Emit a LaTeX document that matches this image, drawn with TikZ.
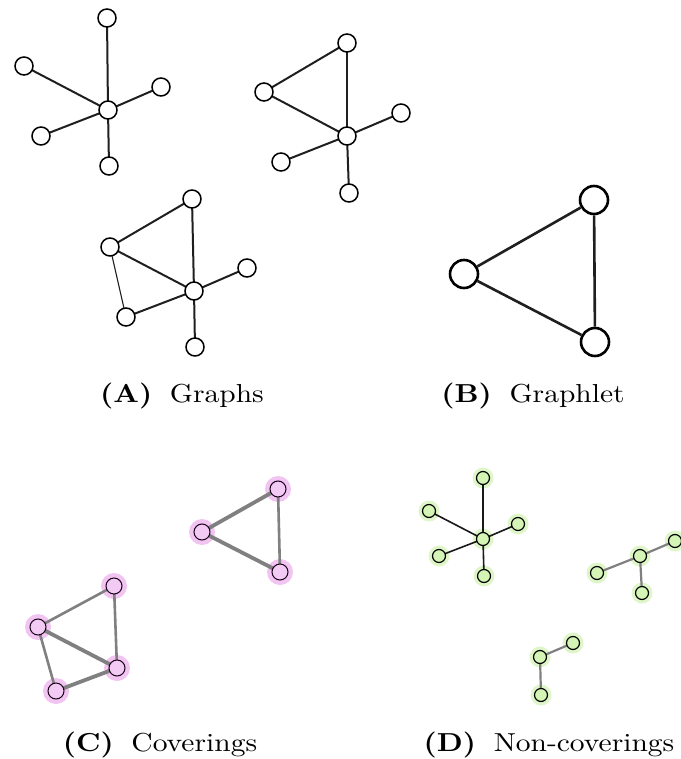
\documentclass[tikz,border=0pt]{standalone}
\usetikzlibrary{calc}
\definecolor{pinkfill}{RGB}{243,202,243}
\definecolor{pinkhalo}{RGB}{236,176,236}
\definecolor{greenfill}{RGB}{212,245,182}
\definecolor{greenhalo}{RGB}{222,246,200}
\definecolor{edgegray}{RGB}{128,128,128}
\tikzset{
  anode/.style={circle,draw=black,fill=white,line width=1.5pt,minimum size=18pt,inner sep=0pt},
  bnode/.style={circle,draw=black,fill=white,line width=2.6pt,minimum size=28pt,inner sep=0pt},
  cnode/.style={circle,draw=black!80!violet,fill=pinkfill,line width=1pt,minimum size=16pt,inner sep=0pt},
  dnode/.style={circle,draw=black,fill=greenfill,line width=1.2pt,minimum size=13pt,inner sep=0pt},
  chalo/.style={circle,fill=pinkhalo,opacity=0.75,minimum size=26pt,inner sep=0pt},
  dhalo/.style={circle,fill=greenhalo,minimum size=21pt,inner sep=0pt},
  aedge/.style={draw=black!88,line width=2pt},
  athin/.style={draw=black!88,line width=1.1pt},
  bedge/.style={draw=black!88,line width=2.6pt},
  cedge/.style={draw=edgegray,line width=3.8pt},
  cthin/.style={draw=edgegray,line width=2.6pt},
  dedge/.style={draw=black!90,line width=1.6pt},
  dgray/.style={draw=edgegray,line width=2.2pt},
  caplabel/.style={anchor=base,inner sep=0pt,font=\fontsize{10}{12}\selectfont,xscale=2.95,yscale=2.6,transform shape}
}
\begin{document}
\begin{tikzpicture}[x=1pt,y=-1pt]
\useasboundingbox (0,0) rectangle (680,759);
% ---------- Panel A, graph 1 ----------
\coordinate (a1c) at (108,110);
\coordinate (a1t) at (107,18);
\coordinate (a1lu) at (24,66);
\coordinate (a1r) at (161,87);
\coordinate (a1ld) at (41,136);
\coordinate (a1b) at (109,166);
\foreach \n in {a1t,a1lu,a1r,a1ld,a1b} \draw[aedge] (a1c) -- (\n);
\foreach \n in {a1c,a1t,a1lu,a1r,a1ld,a1b} \node[anode] (N\n) at (\n) {};
% ---------- Panel A, graph 2 ----------
\coordinate (a2c) at (347,136);
\coordinate (a2t) at (347,43);
\coordinate (a2l) at (264,92);
\coordinate (a2r) at (401,113);
\coordinate (a2ld) at (281,162);
\coordinate (a2b) at (349,193);
\draw[aedge] (a2l) -- (a2t);
\draw[aedge] (a2l) -- (a2c);
\foreach \n in {a2t,a2r,a2ld,a2b} \draw[aedge] (a2c) -- (\n);
\foreach \n in {a2c,a2t,a2l,a2r,a2ld,a2b} \node[anode] (N\n) at (\n) {};
% ---------- Panel A, graph 3 ----------
\coordinate (a3c) at (194,291);
\coordinate (a3t) at (192,199);
\coordinate (a3l) at (110,247);
\coordinate (a3r) at (247,268);
\coordinate (a3ld) at (126,317);
\coordinate (a3b) at (195,347);
\draw[aedge] (a3l) -- (a3t);
\draw[aedge] (a3l) -- (a3c);
\draw[athin] (a3l) -- (a3ld);
\foreach \n in {a3t,a3r,a3ld,a3b} \draw[aedge] (a3c) -- (\n);
\foreach \n in {a3c,a3t,a3l,a3r,a3ld,a3b} \node[anode] (N\n) at (\n) {};
% ---------- Panel B ----------
\node[bnode] (bt) at (594,200) {};
\node[bnode] (bl) at (464,274) {};
\node[bnode] (bb) at (595,342) {};
\draw[bedge] (bl) -- (bt);
\draw[bedge] (bl) -- (bb);
\draw[bedge] (bt) -- (bb);
% ---------- Panel C, triangle ----------
\coordinate (c1t) at (278,489);
\coordinate (c1l) at (202,532);
\coordinate (c1b) at (280,572);
\foreach \n in {c1t,c1l,c1b} \node[chalo] at (\n) {};
\draw[cedge] (c1t) -- (c1l);
\draw[cedge] (c1l) -- (c1b);
\draw[cthin] (c1t) -- (c1b);
\foreach \n in {c1t,c1l,c1b} \node[cnode] (N\n) at (\n) {};
% ---------- Panel C, second graph ----------
\coordinate (c2t) at (114,586);
\coordinate (c2l) at (38,627);
\coordinate (c2r) at (117,668);
\coordinate (c2b) at (56,691);
\foreach \n in {c2t,c2l,c2r,c2b} \node[chalo] at (\n) {};
\draw[cthin] (c2t) -- (c2l);
\draw[cthin] (c2t) -- (c2r);
\draw[cedge] (c2l) -- (c2r);
\draw[cthin] (c2l) -- (c2b);
\draw[cedge] (c2b) -- (c2r);
\foreach \n in {c2t,c2l,c2r,c2b} \node[cnode] (N\n) at (\n) {};
% ---------- Panel D, star ----------
\coordinate (d1c) at (483,539);
\coordinate (d1t) at (483,478);
\coordinate (d1lu) at (429,511);
\coordinate (d1r) at (518,524);
\coordinate (d1ld) at (439,556);
\coordinate (d1b) at (484,576);
\foreach \n in {d1c,d1t,d1lu,d1r,d1ld,d1b} \node[dhalo] at (\n) {};
\foreach \n in {d1t,d1lu,d1r,d1ld,d1b} \draw[dedge] (d1c) -- (\n);
\foreach \n in {d1c,d1t,d1lu,d1r,d1ld,d1b} \node[dnode] (N\n) at (\n) {};
% ---------- Panel D, second ----------
\coordinate (d2c) at (640,556);
\coordinate (d2r) at (675,541);
\coordinate (d2l) at (597,573);
\coordinate (d2b) at (642,593);
\foreach \n in {d2c,d2r,d2l,d2b} \node[dhalo] at (\n) {};
\foreach \n in {d2r,d2l,d2b} \draw[dgray] (d2c) -- (\n);
\foreach \n in {d2c,d2r,d2l,d2b} \node[dnode] (N\n) at (\n) {};
% ---------- Panel D, third ----------
\coordinate (d3c) at (540,657);
\coordinate (d3r) at (573,643);
\coordinate (d3b) at (541,695);
\foreach \n in {d3c,d3r,d3b} \node[dhalo] at (\n) {};
\foreach \n in {d3r,d3b} \draw[dgray] (d3c) -- (\n);
\foreach \n in {d3c,d3r,d3b} \node[dnode] (N\n) at (\n) {};
% ---------- Labels ----------
\node[caplabel] (labA) at (182,402) {\textbf{(A)}\hspace{0.6em}Graphs};
\node[caplabel] (labB) at (533,402) {\textbf{(B)}\hspace{0.6em}Graphlet};
\node[caplabel] (labC) at (160,751) {\textbf{(C)}\hspace{0.6em}Coverings};
\node[caplabel] (labD) at (549,751) {\textbf{(D)}\hspace{0.6em}Non-coverings};
\end{tikzpicture}
\end{document}
